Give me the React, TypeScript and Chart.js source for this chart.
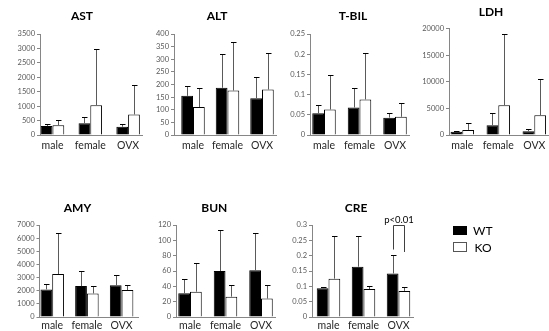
import React, { useEffect, useRef } from 'react';
import { Chart, registerables } from 'chart.js';

Chart.register(...registerables);

// ---------------- data ----------------
const categories = ['male', 'female', 'OVX'];
const seriesLabels = ['WT', 'KO'];

const astWT = [310, 410, 285];
const astWTsd = [75, 200, 95];
const astKO = [335, 1035, 710];
const astKOsd = [185, 1955, 1040];

const altWT = [155, 187, 146];
const altWTsd = [40, 133, 83];
const altKO = [111, 176, 180];
const altKOsd = [76, 192, 145];

const tbilWT = [0.054, 0.068, 0.043];
const tbilWTsd = [0.021, 0.048, 0.012];
const tbilKO = [0.063, 0.088, 0.045];
const tbilKOsd = [0.085, 0.116, 0.035];

const ldhWT = [630, 1830, 690];
const ldhWTsd = [190, 2210, 380];
const ldhKO = [950, 5600, 3720];
const ldhKOsd = [1250, 13300, 6820];

const amyWT = [2100, 2350, 2410];
const amyWTsd = [430, 1130, 810];
const amyKO = [3270, 1790, 2050];
const amyKOsd = [3100, 590, 400];

const bunWT = [31, 60, 61];
const bunWTsd = [18, 54, 48];
const bunKO = [33, 26.5, 24];
const bunKOsd = [38, 15.5, 18];

const creWT = [0.094, 0.164, 0.142];
const creWTsd = [0.005, 0.101, 0.06];
const creKO = [0.125, 0.091, 0.085];
const creKOsd = [0.138, 0.011, 0.012];

const panelTitles = ['AST', 'ALT', 'T-BIL', 'LDH', 'AMY', 'BUN', 'CRE'];
const yAxisMax = [3500, 400, 0.25, 20000, 7000, 120, 0.3];
const yAxisStep = [500, 50, 0.05, 5000, 1000, 20, 0.05];
const significanceLabel = 'p<0.01';

// ---------------- layout (page pixels) ----------------
const LAYOUT = [
  { rowTop: 0, axisX: 40, plotRight: 142, plotTop: 34, plotBottom: 135, c0: 52.5, spacing: 37.8, titleX: 82, titleY: 15.7, xTick: 3, xPad: 1 },
  { rowTop: 0, axisX: 174, plotRight: 276, plotTop: 34, plotBottom: 135, c0: 193, spacing: 34.5, titleX: 217, titleY: 15.7, xTick: 3, xPad: 1 },
  { rowTop: 0, axisX: 310, plotRight: 409, plotTop: 34, plotBottom: 135, c0: 324, spacing: 35.5, titleX: 353, titleY: 15.7, xTick: 3, xPad: 1 },
  { rowTop: 0, axisX: 449, plotRight: 548, plotTop: 28.5, plotBottom: 135, c0: 462.3, spacing: 36, titleX: 491, titleY: 12.3, xTick: 3, xPad: 1 },
  { rowTop: 170, axisX: 39.5, plotRight: 138, plotTop: 225, plotBottom: 317, c0: 52.2, spacing: 34.7, titleX: 77.5, titleY: 208.3, xTick: 2, xPad: 0 },
  { rowTop: 170, axisX: 176, plotRight: 275, plotTop: 225, plotBottom: 317, c0: 190, spacing: 35.5, titleX: 214.3, titleY: 208.3, xTick: 2, xPad: 0 },
  { rowTop: 170, axisX: 312, plotRight: 413, plotTop: 225, plotBottom: 317, c0: 328.5, spacing: 35, titleX: 356, titleY: 208.3, xTick: 2, xPad: 0 },
];

const FONT = 'Lato';
const TITLE_SIZE = 12;
const GROUP_W = 23.5;
const AXIS_COLOR = '#868686';
const Y_AXIS_W = 32;

const errorBarPlugin = {
  id: 'errorBars',
  afterDatasetsDraw(chart: any) {
    const ctx = chart.ctx;
    const yScale = chart.scales.y;
    chart.data.datasets.forEach((ds: any, di: number) => {
      const meta = chart.getDatasetMeta(di);
      meta.data.forEach((el: any, i: number) => {
        const v = ds.data[i].y;
        const e = ds.errors[i];
        const yBar = yScale.getPixelForValue(v);
        const yTop = Math.round(yScale.getPixelForValue(v + e)) + 0.5;
        const x = Math.round(el.x) + 0.5;
        ctx.save();
        ctx.lineWidth = 1;
        ctx.strokeStyle = '#5a5a5a';
        ctx.beginPath();
        ctx.moveTo(x, yBar);
        ctx.lineTo(x, yTop);
        ctx.stroke();
        ctx.strokeStyle = '#000';
        ctx.beginPath();
        ctx.moveTo(x - 2.5, yTop);
        ctx.lineTo(x + 3, yTop);
        ctx.stroke();
        ctx.restore();
      });
    });
  },
};

const bracketPlugin = {
  id: 'sigBracket',
  afterDatasetsDraw(chart: any, _args: any, opts: any) {
    if (!opts || !opts.text) return;
    const ctx = chart.ctx;
    const yScale = chart.scales.y;
    const a = chart.getDatasetMeta(0).data[opts.catIndex];
    const b = chart.getDatasetMeta(1).data[opts.catIndex];
    const xl = Math.round(a.x) + 0.5;
    const xr = Math.round(b.x) + 0.5;
    const yt = Math.round(yScale.getPixelForValue(opts.topValue)) + 0.5;
    const yl = yScale.getPixelForValue(opts.leftBottom);
    const yr = yScale.getPixelForValue(opts.rightBottom);
    ctx.save();
    ctx.strokeStyle = '#404040';
    ctx.lineWidth = 1;
    ctx.beginPath();
    ctx.moveTo(xl, yl);
    ctx.lineTo(xl, yt);
    ctx.lineTo(xr, yt);
    ctx.lineTo(xr, yr);
    ctx.stroke();
    ctx.fillStyle = '#000';
    ctx.font = `9.5px ${FONT}`;
    ctx.textAlign = 'center';
    ctx.textBaseline = 'bottom';
    ctx.fillText(opts.text, (xl + xr) / 2, yt - 1);
    ctx.restore();
  },
};

function fmt(v: number) {
  return String(Number(Number(v).toFixed(4)));
}

function Panel(props: { idx: number; wt: number[]; wtSd: number[]; ko: number[]; koSd: number[]; bracket?: any }) {
  const { idx, wt, wtSd, ko, koSd, bracket } = props;
  const ref = useRef<HTMLCanvasElement>(null);
  const lay = LAYOUT[idx];
  const yw = Y_AXIS_W;
  const L = Math.floor(lay.axisX - yw - 2);
  const pl = lay.axisX - yw - L;
  // right spacer so that the full-width title is centred at titleX
  const r = Math.max(0, 2 * lay.titleX - (lay.axisX - yw) - lay.plotRight);
  const W = Math.ceil(lay.plotRight + r + 1 - L);
  const pr = L + W - lay.plotRight - r;
  const T = lay.rowTop;
  const lh = TITLE_SIZE * 1.2;
  const pt = lay.titleY - T - lh / 2;
  const pbm = lay.plotTop - T - pt - lh;
  const H = Math.ceil(lay.plotBottom + 24 - T);
  const xh = H - (lay.plotBottom - T);

  useEffect(() => {
    if (!ref.current) return;
    const xMin = (lay.axisX - lay.c0) / lay.spacing;
    const xMax = (lay.plotRight - lay.c0) / lay.spacing;
    const catPct = GROUP_W / lay.spacing;
    const chart = new Chart(ref.current, {
      type: 'bar',
      data: {
        datasets: [
          {
            label: seriesLabels[0],
            data: categories.map((_, i) => ({ x: i, y: wt[i] })),
            errors: wtSd,
            xAxisID: 'x',
            yAxisID: 'y',
            backgroundColor: '#000',
            borderColor: '#000',
            borderWidth: 1,
            categoryPercentage: catPct,
            barPercentage: 1,
          } as any,
          {
            label: seriesLabels[1],
            data: categories.map((_, i) => ({ x: i, y: ko[i] })),
            errors: koSd,
            xAxisID: 'x',
            yAxisID: 'y',
            backgroundColor: '#fff',
            borderColor: '#000',
            borderWidth: 1,
            categoryPercentage: catPct,
            barPercentage: 1,
          } as any,
        ],
      },
      options: {
        responsive: false,
        maintainAspectRatio: false,
        animation: false,
        layout: { padding: { left: pl, right: pr, top: 0, bottom: 0 } },
        plugins: {
          legend: { display: false },
          tooltip: { enabled: false },
          title: {
            display: true,
            text: panelTitles[idx],
            color: '#000',
            font: { family: FONT, size: TITLE_SIZE, weight: 'bold' },
            padding: { top: pt, bottom: pbm },
          },
          sigBracket: bracket || {},
        } as any,
        scales: {
          x: {
            type: 'linear',
            min: xMin,
            max: xMax,
            offset: false,
            afterFit: (s: any) => { s.height = xh; },
            grid: { display: true, offset: false, drawOnChartArea: false, drawTicks: true, tickLength: lay.xTick, color: 'rgba(0,0,0,0)' },
            border: { display: true, color: AXIS_COLOR, width: 1 },
            ticks: {
              stepSize: 1,
              includeBounds: false,
              autoSkip: false,
              maxRotation: 0,
              padding: lay.xPad,
              color: '#262626',
              font: { family: FONT, size: 10.5 },
              callback: (v: any) => (categories[Number(v)] !== undefined ? categories[Number(v)] : ''),
            },
          } as any,
          y: {
            type: 'linear',
            position: 'left',
            min: 0,
            max: yAxisMax[idx],
            afterFit: (s: any) => { s.width = yw; },
            grid: { display: true, drawOnChartArea: false, drawTicks: true, tickLength: 3, color: AXIS_COLOR },
            border: { display: true, color: AXIS_COLOR, width: 1 },
            ticks: {
              stepSize: yAxisStep[idx],
              padding: 2,
              color: '#595959',
              font: { family: FONT, size: 7.5 },
              callback: (v: any) => fmt(v),
            },
          } as any,
          spacer: {
            type: 'linear',
            axis: 'y',
            position: 'right',
            display: true,
            afterFit: (s: any) => { s.width = r; },
            grid: { display: false, drawTicks: false },
            border: { display: false },
            ticks: { display: false },
          } as any,
        },
      } as any,
      plugins: [errorBarPlugin, bracketPlugin],
    });
    return () => chart.destroy();
  }, []);

  return (
    <canvas
      ref={ref}
      width={W}
      height={H}
      style={{ position: 'absolute', left: L, top: T, width: W, height: H, display: 'block' }}
    />
  );
}

export default function App() {
  return (
    <div style={{ position: 'absolute', left: 0, top: 0, width: 549, height: 331, overflow: 'hidden', background: '#fff' }}>
      <Panel idx={0} wt={astWT} wtSd={astWTsd} ko={astKO} koSd={astKOsd} />
      <Panel idx={1} wt={altWT} wtSd={altWTsd} ko={altKO} koSd={altKOsd} />
      <Panel idx={2} wt={tbilWT} wtSd={tbilWTsd} ko={tbilKO} koSd={tbilKOsd} />
      <Panel idx={3} wt={ldhWT} wtSd={ldhWTsd} ko={ldhKO} koSd={ldhKOsd} />
      <Panel idx={4} wt={amyWT} wtSd={amyWTsd} ko={amyKO} koSd={amyKOsd} />
      <Panel idx={5} wt={bunWT} wtSd={bunWTsd} ko={bunKO} koSd={bunKOsd} />
      <Panel
        idx={6}
        wt={creWT}
        wtSd={creWTsd}
        ko={creKO}
        koSd={creKOsd}
        bracket={{ text: significanceLabel, catIndex: 2, topValue: 0.3, leftBottom: 0.22, rightBottom: 0.212 }}
      />
      <div style={{ position: 'absolute', left: 453, top: 226, width: 14, height: 9, background: '#000' }} />
      <div style={{ position: 'absolute', left: 453, top: 242, width: 14, height: 10, border: '1px solid #555', background: '#fff', boxSizing: 'border-box' }} />
      <div style={{ position: 'absolute', left: 473, top: 222.5, fontFamily: FONT, fontSize: 12, lineHeight: '16px', color: '#000' }}>{seriesLabels[0]}</div>
      <div style={{ position: 'absolute', left: 474.5, top: 239.5, fontFamily: FONT, fontSize: 12, lineHeight: '16px', color: '#000' }}>{seriesLabels[1]}</div>
    </div>
  );
}
